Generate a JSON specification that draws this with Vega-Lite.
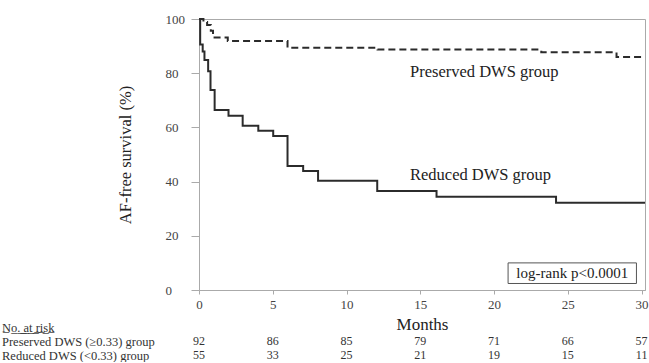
{
  "$schema": "https://vega.github.io/schema/vega-lite/v6.json",
  "padding": {"left": 1, "top": 12, "right": 0, "bottom": 0},
  "background": "white",
  "config": {
    "font": "Liberation Serif",
    "view": {"stroke": "#aaaaaa"},
    "axis": {"domainColor": "#aaaaaa", "tickColor": "#aaaaaa", "grid": false, "labelColor": "#444444", "titleColor": "#222222", "labelFont": "Liberation Serif", "titleFont": "Liberation Serif", "titleFontWeight": "normal"},
    "text": {"font": "Liberation Serif"}
  },
  "bounds": "flush",
  "spacing": 30,
  "datasets": {
    "km": [
      {"group": "Preserved", "time": 0, "surv": 100},
      {"group": "Preserved", "time": 0.3, "surv": 98.9},
      {"group": "Preserved", "time": 0.55, "surv": 97.8},
      {"group": "Preserved", "time": 0.8, "surv": 95.7},
      {"group": "Preserved", "time": 0.95, "surv": 93.2},
      {"group": "Preserved", "time": 1.95, "surv": 91.9},
      {"group": "Preserved", "time": 6.0, "surv": 89.4},
      {"group": "Preserved", "time": 12.1, "surv": 88.7},
      {"group": "Preserved", "time": 23.2, "surv": 87.7},
      {"group": "Preserved", "time": 28.3, "surv": 86.0},
      {"group": "Preserved", "time": 30.23, "surv": 86.0},
      {"group": "Reduced", "time": 0, "surv": 100},
      {"group": "Reduced", "time": 0.08, "surv": 90.6},
      {"group": "Reduced", "time": 0.25, "surv": 88.0},
      {"group": "Reduced", "time": 0.37, "surv": 84.9},
      {"group": "Reduced", "time": 0.62, "surv": 80.7},
      {"group": "Reduced", "time": 0.78, "surv": 73.8},
      {"group": "Reduced", "time": 1.06, "surv": 66.4},
      {"group": "Reduced", "time": 2.0, "surv": 64.3},
      {"group": "Reduced", "time": 2.96, "surv": 60.6},
      {"group": "Reduced", "time": 4.02, "surv": 58.8},
      {"group": "Reduced", "time": 5.03, "surv": 56.8},
      {"group": "Reduced", "time": 6.0, "surv": 45.8},
      {"group": "Reduced", "time": 7.06, "surv": 43.9},
      {"group": "Reduced", "time": 8.07, "surv": 40.3},
      {"group": "Reduced", "time": 12.08, "surv": 36.5},
      {"group": "Reduced", "time": 16.1, "surv": 34.4},
      {"group": "Reduced", "time": 24.2, "surv": 32.2},
      {"group": "Reduced", "time": 30.23, "surv": 32.2}
    ],
    "risk": [
      {"row": "Preserved DWS (≥0.33) group", "time": 0, "n": 92},
      {"row": "Preserved DWS (≥0.33) group", "time": 5, "n": 86},
      {"row": "Preserved DWS (≥0.33) group", "time": 10, "n": 85},
      {"row": "Preserved DWS (≥0.33) group", "time": 15, "n": 79},
      {"row": "Preserved DWS (≥0.33) group", "time": 20, "n": 71},
      {"row": "Preserved DWS (≥0.33) group", "time": 25, "n": 66},
      {"row": "Preserved DWS (≥0.33) group", "time": 30, "n": 57},
      {"row": "Reduced DWS (<0.33) group", "time": 0, "n": 55},
      {"row": "Reduced DWS (<0.33) group", "time": 5, "n": 33},
      {"row": "Reduced DWS (<0.33) group", "time": 10, "n": 25},
      {"row": "Reduced DWS (<0.33) group", "time": 15, "n": 21},
      {"row": "Reduced DWS (<0.33) group", "time": 20, "n": 19},
      {"row": "Reduced DWS (<0.33) group", "time": 25, "n": 15},
      {"row": "Reduced DWS (<0.33) group", "time": 30, "n": 11}
    ]
  },
  "vconcat": [
    {
      "width": 446,
      "height": 271,
      "layer": [
        {
          "data": {"name": "km"},
          "mark": {"type": "line", "interpolate": "step-after", "strokeWidth": 2, "color": "#2b2b2b"},
          "encoding": {
            "x": {"field": "time", "type": "quantitative", "scale": {"domain": [0, 30.23], "nice": false, "zero": false},
              "axis": {"values": [0, 2.5, 5, 7.5, 10, 12.5, 15, 17.5, 20, 22.5, 25, 27.5, 30], "labelExpr": "datum.value % 5 === 0 ? datum.label : ''", "tickSize": 4, "labelPadding": 4, "labelFontSize": 13, "labelFlush": false, "title": "Months", "titleFontSize": 17, "titlePadding": 5}},
            "y": {"field": "surv", "type": "quantitative", "scale": {"domain": [0, 100], "nice": false},
              "axis": {"values": [0, 10, 20, 30, 40, 50, 60, 70, 80, 90, 100], "labelExpr": "datum.value % 20 === 0 ? datum.label : ''", "tickSize": {"condition": {"test": "datum.value % 20 === 0", "value": 8}, "value": 4}, "labelAlign": "left", "labelPadding": 26, "labelFontSize": 13, "title": "AF-free survival (%)", "titleFontSize": 16.5, "titlePadding": 32}},
            "strokeDash": {"field": "group", "type": "nominal", "scale": {"domain": ["Preserved", "Reduced"], "range": [[7, 4], [1, 0]]}, "legend": null},
            "detail": {"field": "group"}
          }
        },
        {
          "data": {"values": [{"label": "Preserved DWS group"}]},
          "mark": {"type": "text", "align": "left", "baseline": "middle", "fontSize": 16.5, "color": "#222222"},
          "encoding": {"x": {"datum": 14.3, "type": "quantitative"}, "y": {"datum": 80.5, "type": "quantitative"}, "text": {"field": "label"}}
        },
        {
          "data": {"values": [{"label": "Reduced DWS group"}]},
          "mark": {"type": "text", "align": "left", "baseline": "middle", "fontSize": 16.5, "color": "#222222"},
          "encoding": {"x": {"datum": 14.3, "type": "quantitative"}, "y": {"datum": 42.5, "type": "quantitative"}, "text": {"field": "label"}}
        },
        {
          "data": {"values": [{"label": "log-rank p<0.0001"}]},
          "mark": {"type": "rect", "fill": "white", "stroke": "#555555", "strokeWidth": 1},
          "encoding": {"x": {"datum": 20.95, "type": "quantitative"}, "x2": {"datum": 29.65}, "y": {"datum": 10.0, "type": "quantitative"}, "y2": {"datum": 2.4}}
        },
        {
          "data": {"values": [{"label": "log-rank p<0.0001"}]},
          "mark": {"type": "text", "align": "center", "baseline": "middle", "fontSize": 15, "color": "#222222"},
          "encoding": {"x": {"datum": 25.3, "type": "quantitative"}, "y": {"datum": 6.3, "type": "quantitative"}, "text": {"field": "label"}}
        }
      ]
    },
    {
      "width": 446,
      "height": 42,
      "view": {"stroke": null},
      "data": {"name": "risk"},
      "mark": {"type": "text", "align": "center", "baseline": "middle", "fontSize": 12, "color": "#333333"},
      "encoding": {
        "x": {"field": "time", "type": "quantitative", "scale": {"domain": [0, 30.23], "nice": false, "zero": false}, "axis": null},
        "y": {"field": "row", "type": "nominal", "scale": {"domain": ["No. at risk", "Preserved DWS (≥0.33) group", "Reduced DWS (<0.33) group"]},
          "axis": {"title": null, "domain": false, "ticks": false, "labelAlign": "left", "labelPadding": 197.5, "labelFontSize": 12.5, "labelColor": "#333333", "labelLimit": 0,
            "labelExpr": "datum.value === 'No. at risk' ? 'N\u0332o\u0332.\u0332 \u0332a\u0332t\u0332 \u0332r\u0332i\u0332s\u0332k\u0332' : datum.label"}},
        "text": {"field": "n", "type": "quantitative"}
      }
    }
  ]
}
